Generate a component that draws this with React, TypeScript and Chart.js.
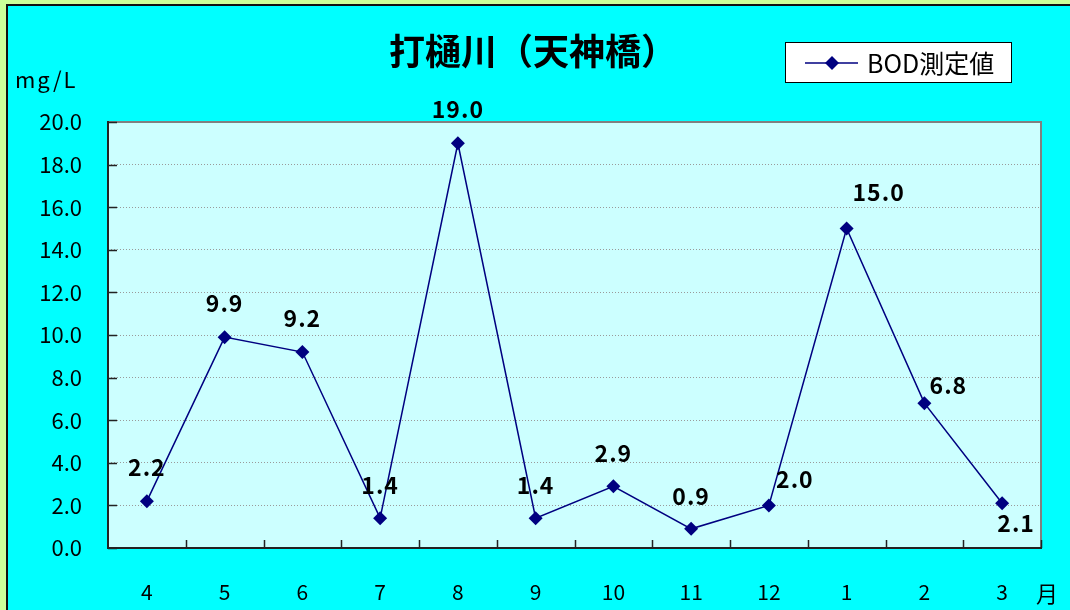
import React, { useEffect, useRef } from "react";
import { Chart, registerables } from "chart.js";

Chart.register(...registerables);

const months = ["4", "5", "6", "7", "8", "9", "10", "11", "12", "1", "2", "3"];
const bodValues = [2.2, 9.9, 9.2, 1.4, 19.0, 1.4, 2.9, 0.9, 2.0, 15.0, 6.8, 2.1];
const yMin = 0;
const yMax = 20;
const yStep = 2;
const titleText = "打樋川（天神橋）";
const seriesName = "BOD測定値";
const yUnit = "mg/L";
const xUnit = "月";

const FONT = "'Noto Sans CJK JP', 'Noto Sans', sans-serif";
const NAVY = "#000080";

// label offsets (style) relative to each point
const labelOffsets: [number, number][] = [
  [0, -34], [0, -34], [0, -34], [0, -33], [0, -34], [0, -33],
  [0, -33], [0, -33], [26, -26], [32, -36], [24, -18], [14, 20],
];

const framePlugin = {
  id: "frame",
  beforeDraw(chart: any) {
    const { ctx, chartArea: a } = chart;
    ctx.save();
    ctx.fillStyle = "#CCFFFF";
    ctx.fillRect(a.left, a.top, a.right - a.left, a.bottom - a.top);
    ctx.restore();
  },
  beforeDatasetsDraw(chart: any) {
    const { ctx, chartArea: a, scales } = chart;
    ctx.save();
    ctx.strokeStyle = "#808080";
    ctx.lineWidth = 2;
    ctx.beginPath();
    ctx.moveTo(a.left, a.top);
    ctx.lineTo(a.right, a.top);
    ctx.lineTo(a.right, a.bottom);
    ctx.stroke();
    ctx.strokeStyle = "#222";
    ctx.beginPath();
    ctx.moveTo(a.left, a.top - 1);
    ctx.lineTo(a.left, a.bottom);
    ctx.lineTo(a.right + 1, a.bottom);
    ctx.stroke();
    ctx.lineWidth = 1.5;
    const n = months.length;
    const w = (a.right - a.left) / n;
    ctx.beginPath();
    for (let i = 1; i <= n; i++) {
      const px = Math.round(a.left + w * i) + 0.5;
      ctx.moveTo(px, a.bottom);
      ctx.lineTo(px, a.bottom - 8);
    }
    const y = scales.y;
    for (let v = yMin; v <= yMax; v += yStep) {
      const py = Math.round(y.getPixelForValue(v)) + 0.5;
      ctx.moveTo(a.left, py);
      ctx.lineTo(a.left + 9, py);
    }
    ctx.stroke();
    ctx.restore();
  },
  afterDatasetsDraw(chart: any) {
    const { ctx } = chart;
    const meta = chart.getDatasetMeta(0);
    ctx.save();
    ctx.fillStyle = "#000";
    ctx.font = `bold 23px ${FONT}`;
    (ctx as any).letterSpacing = "1px";
    ctx.textAlign = "center";
    ctx.textBaseline = "middle";
    meta.data.forEach((pt: any, i: number) => {
      const [dx, dy] = labelOffsets[i] || [0, -34];
      ctx.fillText(bodValues[i].toFixed(1), pt.x + dx, pt.y + dy);
    });
    ctx.restore();
  },
  afterDraw(chart: any) {
    const { ctx } = chart;
    ctx.save();
    ctx.fillStyle = "#000";
    ctx.font = `bold 36px ${FONT}`;
    ctx.textAlign = "center";
    ctx.textBaseline = "middle";
    ctx.fillText(titleText, 533, 51);
    ctx.font = `22px ${FONT}`;
    (ctx as any).letterSpacing = "2px";
    ctx.textAlign = "left";
    ctx.fillText(yUnit, 15, 80);
    (ctx as any).letterSpacing = "0px";
    ctx.textAlign = "center";
    ctx.fillText(xUnit, 1047, 594);
    ctx.fillStyle = "#fff";
    ctx.fillRect(785, 42, 227, 41);
    ctx.strokeStyle = "#000";
    ctx.lineWidth = 1;
    ctx.strokeRect(785.5, 42.5, 226, 40);
    ctx.strokeStyle = NAVY;
    ctx.lineWidth = 1.5;
    ctx.beginPath();
    ctx.moveTo(805, 63);
    ctx.lineTo(858, 63);
    ctx.stroke();
    ctx.fillStyle = NAVY;
    ctx.beginPath();
    ctx.moveTo(832, 56);
    ctx.lineTo(839, 63);
    ctx.lineTo(832, 70);
    ctx.lineTo(825, 63);
    ctx.closePath();
    ctx.fill();
    ctx.fillStyle = "#000";
    ctx.font = `25px ${FONT}`;
    ctx.textAlign = "left";
    ctx.fillText(seriesName, 867, 63);
    ctx.restore();
  },
};

export default function App() {
  const ref = useRef<HTMLCanvasElement | null>(null);
  useEffect(() => {
    if (!ref.current) return;
    const chart = new Chart(ref.current, {
      type: "line",
      data: {
        labels: months,
        datasets: [
          {
            label: seriesName,
            data: bodValues,
            borderColor: NAVY,
            backgroundColor: NAVY,
            borderWidth: 1.5,
            pointStyle: "rectRot",
            pointRadius: 7,
            pointBackgroundColor: NAVY,
            pointBorderColor: NAVY,
            pointBorderWidth: 0,
            tension: 0,
          },
        ],
      },
      options: {
        responsive: false,
        animation: false,
        devicePixelRatio: 1,
        layout: { padding: { top: 122, right: 29, left: 0, bottom: 0 } },
        plugins: {
          legend: { display: false },
          title: { display: false },
          tooltip: { enabled: false },
        },
        scales: {
          x: {
            type: "category",
            offset: true,
            grid: { display: false, drawTicks: false },
            border: { display: false },
            ticks: {
              color: "#000",
              font: { family: FONT, size: 21 },
              padding: 31,
              maxRotation: 0,
              autoSkip: false,
            },
            afterFit: (s: any) => {
              s.height = 62;
            },
          },
          y: {
            min: yMin,
            max: yMax,
            grid: { color: "#9A9A9A", lineWidth: 1, drawTicks: false },
            border: { display: false, dash: [1, 2] },
            ticks: {
              stepSize: yStep,
              color: "#000",
              font: { family: FONT, size: 22 },
              padding: 26,
              callback: (v: any) => Number(v).toFixed(1),
            },
            afterFit: (s: any) => {
              s.width = 108;
            },
          },
        },
      },
      plugins: [framePlugin],
    });
    return () => chart.destroy();
  }, []);

  return (
    <div
      style={{
        position: "fixed",
        left: 0,
        top: 0,
        width: 1070,
        height: 610,
        background: "#CCFF99",
        overflow: "hidden",
      }}
    >
      <div
        style={{
          position: "absolute",
          left: 6,
          top: 4,
          width: 1100,
          height: 640,
          background: "#00FFFF",
          borderLeft: "2px solid #111",
          borderTop: "2px solid #111",
        }}
      />
      <canvas
        ref={ref}
        width={1070}
        height={610}
        style={{ position: "absolute", left: 0, top: 0, display: "block" }}
      />
    </div>
  );
}
